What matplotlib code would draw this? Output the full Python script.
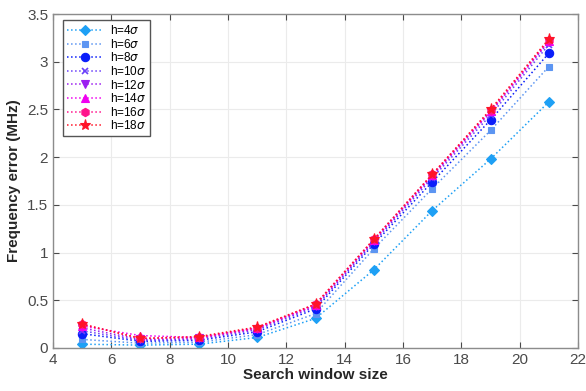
import numpy as np
import matplotlib.pyplot as plt

plt.rcParams['font.family'] = ['Liberation Sans', 'DejaVu Sans']

# search window sizes
window = [5, 7, 9, 11, 13, 15, 17, 19, 21]

# frequency error (MHz) per threshold h
err_h4 = [0.04, 0.03, 0.04, 0.11, 0.31, 0.82, 1.44, 1.98, 2.58]
err_h6 = [0.09, 0.05, 0.06, 0.14, 0.36, 1.04, 1.67, 2.28, 2.95]
err_h8 = [0.15, 0.07, 0.08, 0.17, 0.41, 1.09, 1.74, 2.39, 3.09]
err_h10 = [0.18, 0.08, 0.09, 0.19, 0.43, 1.11, 1.78, 2.44, 3.18]
err_h12 = [0.21, 0.09, 0.10, 0.20, 0.44, 1.12, 1.80, 2.47, 3.21]
err_h14 = [0.23, 0.13, 0.11, 0.21, 0.45, 1.13, 1.81, 2.48, 3.22]
err_h16 = [0.25, 0.10, 0.11, 0.21, 0.46, 1.14, 1.82, 2.49, 3.23]
err_h18 = [0.25, 0.10, 0.12, 0.22, 0.46, 1.14, 1.82, 2.50, 3.24]

labels = [r'h=4$\sigma$', r'h=6$\sigma$', r'h=8$\sigma$', r'h=10$\sigma$',
          r'h=12$\sigma$', r'h=14$\sigma$', r'h=16$\sigma$', r'h=18$\sigma$']
series = [err_h4, err_h6, err_h8, err_h10, err_h12, err_h14, err_h16, err_h18]
colors = ['#1EA0F5', '#5C95F2', '#0A1EFA', '#6A40FA',
          '#9B1EF0', '#F000F0', '#FF148C', '#FF1428']
markers = ['D', 's', 'o', 'x', 'v', '^', 'h', '*']
sizes = [5, 5, 6, 5, 6, 6, 6, 8]

fig = plt.figure(figsize=(5.86, 3.91), dpi=100)
ax = fig.add_axes([0.0904, 0.110, 0.896, 0.854])

for y, lab, c, m, s in zip(series, labels, colors, markers, sizes):
    ax.plot(window, y, linestyle=':', linewidth=1.1, color=c, marker=m,
            markersize=s, markeredgewidth=1.2 if m == 'x' else 0.8,
            label=lab)

ax.set_xlim(4, 22)
ax.set_ylim(0, 3.5)
ax.set_xticks(np.arange(4, 23, 2))
ax.set_yticks(np.arange(0, 3.6, 0.5))
ax.set_yticklabels(['0', '0.5', '1', '1.5', '2', '2.5', '3', '3.5'])
ax.grid(True, color='#ebebeb', linewidth=0.8)
ax.set_axisbelow(True)
ax.tick_params(direction='in', top=True, right=True, labelsize=11,
               colors='#4a4a4a', length=4)
for sp in ax.spines.values():
    sp.set_color('#8c8c8c')
    sp.set_linewidth(1.0)

ax.set_xlabel('Search window size', fontsize=11, fontweight='bold',
              color='#262626', labelpad=1)
ax.set_ylabel('Frequency error (MHz)', fontsize=11, fontweight='bold',
              color='#262626', labelpad=4)

leg = ax.legend(loc='upper left', fontsize=8.5, handlelength=3.0,
                labelspacing=0.05, borderpad=0.35, handletextpad=0.6,
                borderaxespad=0, fancybox=False, framealpha=1,
                edgecolor='#555555', bbox_to_anchor=(0.019, 0.982))
leg.get_frame().set_linewidth(1.0)

fig.savefig('out.png', dpi=100)
